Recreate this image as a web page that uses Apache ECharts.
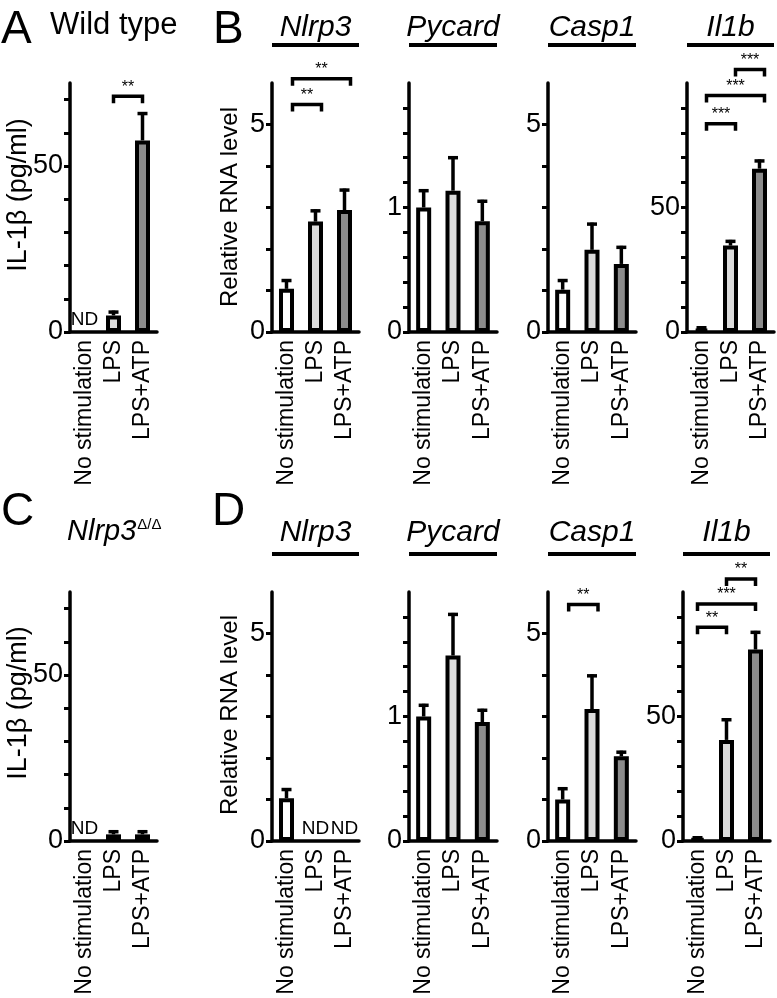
<!DOCTYPE html>
<html><head><meta charset="utf-8">
<script src="https://cdn.jsdelivr.net/npm/echarts@6/dist/echarts.min.js"></script>
<style>html,body{margin:0;padding:0;background:#fff}#c{width:777px;height:998px}</style>
</head><body><div id="c"></div><script>
// ---------- data ----------
const categories = ['No stimulation', 'LPS', 'LPS+ATP'];

// A: wild type, IL-1β protein (pg/ml); null = ND
const wtIL1bMean = [null, 5.0, 57.7];
const wtIL1bSem  = [0, 1.0, 8.1];
const wtIL1bSig  = [[1, 2, 71, '**']];

// B: wild type, relative RNA level
const wtNlrp3Mean = [1.04, 2.66, 2.94];
const wtNlrp3Sem  = [0.20, 0.26, 0.48];
const wtNlrp3Sig  = [[0, 1, 5.48, '**'], [0, 2, 6.1, '**']];
const wtPycardMean = [1.0, 1.135, 0.89];
const wtPycardSem  = [0.135, 0.265, 0.16];
const wtCasp1Mean = [1.02, 1.98, 1.64];
const wtCasp1Sem  = [0.22, 0.62, 0.40];
const wtIl1bMean = [1.3, 34.7, 65.6];
const wtIl1bSem  = [0.4, 1.7, 3.1];
const wtIl1bSig  = [[0, 1, 83.6, '***'], [0, 2, 95, '***'], [1, 2, 105.4, '***']];

// C: Nlrp3 Δ/Δ, IL-1β protein (pg/ml)
const koIL1bMean = [null, 2.0, 2.0];
const koIL1bSem  = [0, 0.8, 0.8];

// D: Nlrp3 Δ/Δ, relative RNA level
const koNlrp3Mean = [1.03, null, null];
const koNlrp3Sem  = [0.21, 0, 0];
const koPycardMean = [1.0, 1.49, 0.955];
const koPycardSem  = [0.09, 0.33, 0.095];
const koCasp1Mean = [1.0, 3.18, 2.04];
const koCasp1Sem  = [0.26, 0.80, 0.10];
const koCasp1Sig  = [[0, 1, 5.7, '**']];
const koIl1bMean = [1.0, 40.6, 76.9];
const koIl1bSem  = [0.3, 8.1, 6.9];
const koIl1bSig  = [[0, 1, 85.8, '**'], [0, 2, 95.2, '***'], [1, 2, 105.2, '**']];

// axis ticks / labels
const proteinTicks = [0, 10, 20, 30, 40, 50, 60, 70];
const proteinLabels = [0, 50];
const rnaTicks = [0, 1, 2, 3, 4, 5];
const rnaLabels = [0, 5];
const pycardTicks = [0, 0.2, 0.4, 0.6, 0.8, 1.0, 1.2, 1.4, 1.6, 1.8];
const pycardLabels = [0, 1];
const il1bTicks = [0, 10, 20, 30, 40, 50, 60, 70, 80, 90];
const il1bLabels = [0, 50];

// ---------- layout & style ----------
const FONT = '"Liberation Sans", Arial, Helvetica, sans-serif';
const barColors = ['#ffffff', '#dcdcdc', '#8c8c8c'];
const TOP1 = 83, TOP2 = 592, H = 249;
const LW = 3.5;

const panels = [
  {left: 70,  top: TOP1, width: 87, max: 75,  step: 10,  ticks: proteinTicks, labels: proteinLabels, mean: wtIL1bMean, sem: wtIL1bSem, sig: wtIL1bSig, shift: 0},
  {left: 272, top: TOP1, width: 87, max: 6,   step: 1,   ticks: rnaTicks, labels: rnaLabels, mean: wtNlrp3Mean, sem: wtNlrp3Sem, sig: wtNlrp3Sig, shift: 6, gene: 'Nlrp3'},
  {left: 409, top: TOP1, width: 88, max: 2,   step: 0.2, ticks: pycardTicks, labels: pycardLabels, mean: wtPycardMean, sem: wtPycardSem, sig: [], shift: 0, gene: 'Pycard'},
  {left: 548, top: TOP1, width: 88, max: 6,   step: 1,   ticks: rnaTicks, labels: rnaLabels, mean: wtCasp1Mean, sem: wtCasp1Sem, sig: [], shift: 0, gene: 'Casp1'},
  {left: 687, top: TOP1, width: 87, max: 100, step: 10,  ticks: il1bTicks, labels: il1bLabels, mean: wtIl1bMean, sem: wtIl1bSem, sig: wtIl1bSig, shift: 5, gene: 'Il1b'},
  {left: 70,  top: TOP2, width: 87, max: 75,  step: 10,  ticks: proteinTicks, labels: proteinLabels, mean: koIL1bMean, sem: koIL1bSem, sig: [], shift: 0},
  {left: 272, top: TOP2, width: 87, max: 6,   step: 1,   ticks: rnaTicks, labels: rnaLabels, mean: koNlrp3Mean, sem: koNlrp3Sem, sig: [], shift: 0, gene: 'Nlrp3'},
  {left: 409, top: TOP2, width: 88, max: 2,   step: 0.2, ticks: pycardTicks, labels: pycardLabels, mean: koPycardMean, sem: koPycardSem, sig: [], shift: 0, gene: 'Pycard'},
  {left: 548, top: TOP2, width: 88, max: 6,   step: 1,   ticks: rnaTicks, labels: rnaLabels, mean: koCasp1Mean, sem: koCasp1Sem, sig: koCasp1Sig, shift: 6, gene: 'Casp1'},
  {left: 683, top: TOP2, width: 87, max: 100, step: 10,  ticks: il1bTicks, labels: il1bLabels, mean: koIl1bMean, sem: koIl1bSem, sig: koIl1bSig, shift: 0, gene: 'Il1b'}
];

const series = [];
panels.forEach((p, gi) => {
  series.push({
    type: 'bar', xAxisIndex: gi, yAxisIndex: gi, barWidth: 15, z: 2,
    data: p.mean.map((v, i) => v == null ? '-' : {value: v, itemStyle: {color: barColors[i]}}),
    itemStyle: {borderColor: '#000', borderWidth: 4},
    emphasis: {disabled: true}
  });
  // error bars (upper only)
  series.push({
    type: 'custom', xAxisIndex: gi, yAxisIndex: gi, clip: false, z: 3,
    data: p.mean.map((v, i) => [i, v == null ? 0 : v, p.sem[i]]).filter((d, i) => p.mean[i] != null && p.sem[i] > 0),
    renderItem(params, api) {
      const i = api.value(0), m = api.value(1), s = api.value(2);
      const a = api.coord([i, m]);
      const b = api.coord([i, m + s]);
      return {type: 'group', children: [
        {type: 'line', shape: {x1: a[0], y1: a[1], x2: b[0], y2: b[1] - 1.5}, style: {stroke: '#000', lineWidth: LW}},
        {type: 'line', shape: {x1: b[0] - 5, y1: b[1], x2: b[0] + 5, y2: b[1]}, style: {stroke: '#000', lineWidth: LW}}
      ]};
    }
  });
  // ND labels
  const nd = p.mean.map((v, i) => [i, 0]).filter((d, i) => p.mean[i] == null);
  if (nd.length) {
    series.push({
      type: 'custom', xAxisIndex: gi, yAxisIndex: gi, clip: false, z: 4,
      data: nd,
      renderItem(params, api) {
        const c = api.coord([api.value(0), 0]);
        return {type: 'text', x: c[0], y: c[1] - 3,
          style: {text: 'ND', fill: '#000', font: '19px "Liberation Sans Narrow", ' + FONT, textAlign: 'center', textVerticalAlign: 'bottom'}};
      }
    });
  }
  // significance brackets
  if (p.sig.length) {
    series.push({
      type: 'custom', xAxisIndex: gi, yAxisIndex: gi, clip: false, z: 4,
      data: p.sig.map(s => [s[0], s[2]]),
      renderItem(params, api) {
        const s = p.sig[params.dataIndex];
        const a = api.coord([s[0], s[2]]);
        const b = api.coord([s[1], s[2]]);
        const x1 = a[0] + p.shift, x2 = b[0] + p.shift, y = a[1];
        return {type: 'group', children: [
          {type: 'polyline', shape: {points: [[x1, y + 7], [x1, y], [x2, y], [x2, y + 7]]},
            style: {stroke: '#000', lineWidth: LW, fill: null}},
          {type: 'text', x: (x1 + x2) / 2, y: y - 1,
            style: {text: s[3], fill: '#000', font: '16px ' + FONT, textAlign: 'center', textVerticalAlign: 'bottom'}}
        ]};
      }
    });
  }
});

// ---------- titles and annotations ----------
const graphic = [];
function txt(x, y, text, size) {
  graphic.push({type: 'text', x: x, y: y,
    style: {text: text, fill: '#000', font: size + 'px ' + FONT, textAlign: 'left', textVerticalAlign: 'middle'}});
}
txt(1, 30, 'A', 46);
txt(50, 25, 'Wild type', 31);
txt(213, 30, 'B', 46);
txt(1, 512, 'C', 46);
txt(212, 512, 'D', 46);
panels.forEach(p => {
  if (!p.gene) return;
  const cx = p.left + p.width / 2;
  const ty = p.top === TOP1 ? 28 : 533;
  const uy = p.top === TOP1 ? 45 : 554;
  graphic.push({type: 'text', x: cx, y: ty,
    style: {text: p.gene, fill: '#000', font: 'italic 30px ' + FONT, textAlign: 'center', textVerticalAlign: 'middle'}});
  graphic.push({type: 'line', shape: {x1: p.left, y1: uy, x2: p.left + p.width, y2: uy},
    style: {stroke: '#000', lineWidth: 4}});
});
// C title with superscript
graphic.push({type: 'text', x: 67, y: 532,
  style: {text: '{a|Nlrp3}{b|Δ/Δ}', textVerticalAlign: 'middle',
    rich: {a: {font: 'italic 29px ' + FONT, fill: '#000'},
           b: {font: '15px ' + FONT, fill: '#000', verticalAlign: 'top', padding: [0, 0, 12, 1]}}}});
// y-axis names
function yName(x, y, text, size) {
  graphic.push({type: 'text', x: x, y: y, rotation: Math.PI / 2,
    style: {text: text, fill: '#000', font: size + 'px ' + FONT, textAlign: 'center', textVerticalAlign: 'middle'}});
}
yName(19, 195, 'IL-1β (pg/ml)', 27);
yName(19, 703, 'IL-1β (pg/ml)', 27);
yName(230, 207, 'Relative RNA level', 24);
yName(230, 715, 'Relative RNA level', 24);

const option = {
  animation: false,
  backgroundColor: '#fff',
  grid: panels.map(p => ({left: p.left, top: p.top, width: p.width, height: H})),
  xAxis: panels.map((p, i) => ({
    type: 'category', gridIndex: i, data: categories,
    axisLine: {lineStyle: {color: '#000', width: LW}},
    axisTick: {show: false},
    axisLabel: {rotate: 90, interval: 0, fontSize: 23, color: '#000', margin: 8, fontFamily: FONT}
  })),
  yAxis: panels.map((p, i) => ({
    type: 'value', gridIndex: i, min: 0, max: p.max, interval: p.step,
    splitLine: {show: false},
    axisLine: {show: true, lineStyle: {color: '#000', width: LW}},
    axisTick: {show: true, length: 6, lineStyle: {color: '#000', width: 3}, customValues: p.ticks},
    axisLabel: {customValues: p.labels, fontSize: 27, color: '#000', margin: 7, fontFamily: FONT}
  })),
  series: series,
  graphic: graphic
};
const chart = echarts.init(document.getElementById('c'), null, {renderer: 'canvas'});
chart.setOption(option);
</script></body></html>
